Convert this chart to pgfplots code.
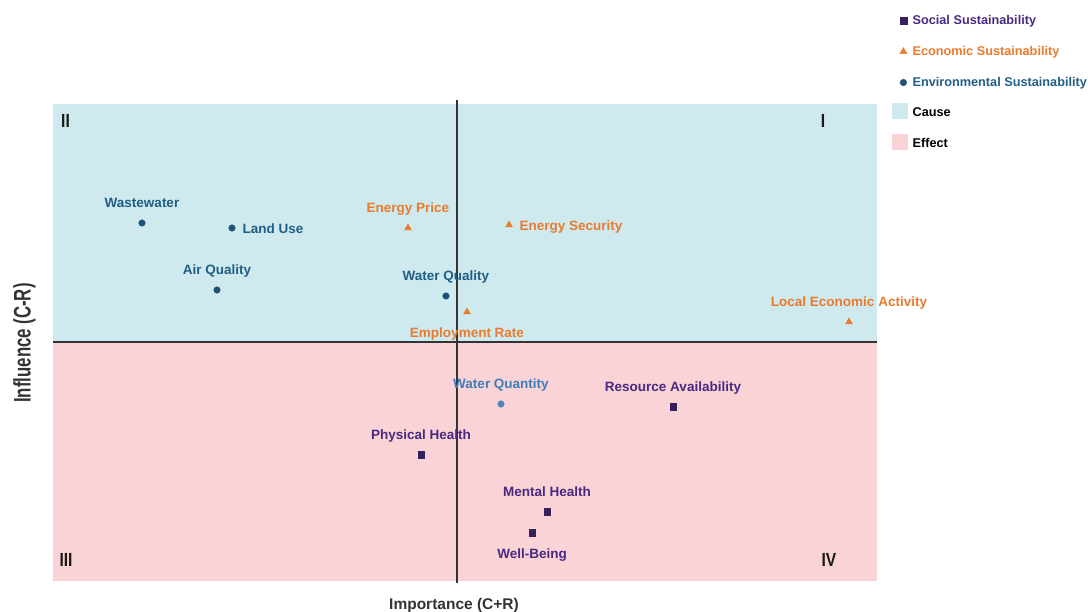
\documentclass[border=0pt]{standalone}
\usepackage{fontspec}
\setmainfont{Liberation Sans}
\usepackage{pgfplots}
\usepackage{pgfplotstable}
\pgfplotsset{compat=1.18}

\definecolor{cause}{HTML}{CFEAEE}
\definecolor{effect}{HTML}{FAD3D6}
\definecolor{socm}{HTML}{35205F}
\definecolor{soct}{HTML}{4A2A80}
\definecolor{ecom}{HTML}{EA7A2C}
\definecolor{envm}{HTML}{1D5177}
\definecolor{envt}{HTML}{215E86}
\definecolor{wqm}{HTML}{4A86BA}
\definecolor{wqt}{HTML}{3F7DB8}
\definecolor{axline}{HTML}{333333}

% x = importance (C+R), y = influence (C-R)
% rows ordered by where the label sits: above, below, right
\pgfplotstableread[col sep=comma]{
x,y,lbl
0.90,-1.70,Mental Health
-0.36,-1.13,Physical Health
2.16,-0.65,Resource Availability
0.75,-1.91,Well-Being
}\social

\pgfplotstableread[col sep=comma]{
x,y,lbl
-0.49,1.14,Energy Price
3.92,0.20,Local Economic Activity
0.10,0.30,Employment Rate
0.52,1.17,Energy Security
}\economic

\pgfplotstableread[col sep=comma]{
x,y,lbl
-3.15,1.19,Wastewater
-2.40,0.52,Air Quality
-0.11,0.46,Water Quality
-2.25,1.14,Land Use
}\environmental

\pgfplotstableread[col sep=comma]{
x,y,lbl
0.44,-0.62,Water Quantity
}\waterqty

\tikzset{
  above lbl/.style={anchor=base, yshift=15pt},
  below lbl/.style={anchor=base, yshift=-25.5pt},
  right lbl/.style={anchor=base west, xshift=10.5pt, yshift=-5.5pt},
  quad/.style={text=black!90, font=\bfseries\fontsize{19}{19}\selectfont},
}

\pgfplotsset{
  lbl/.style 2 args={
    forget plot, draw=none, mark=none,
    point meta=explicit symbolic,
    nodes near coords={\pgfplotspointmeta},
    every node near coord/.append style={
      inner sep=0pt, font=\bfseries\fontsize{13.5}{15}\selectfont,
      text=#1, #2},
  },
  mark legend/.style={
    legend image code/.code={
      \path (0pt,-8pt) (0pt,11pt);
      \draw[##1] plot coordinates {(11pt,0pt)};
    }
  },
  patch legend/.style={
    legend image code/.code={
      \path (0pt,-8pt) (0pt,11pt);
      \fill[#1] (0pt,-4.5pt) rectangle (15pt,10.5pt);
    }
  },
}

\begin{document}
\begin{tikzpicture}
\useasboundingbox (-53pt,-31pt) rectangle (1035pt,581pt);
\begin{axis}[
    scale only axis,
    width=824pt, height=477pt,
    xmin=-4.04, xmax=4.20,
    ymin=-2.39, ymax=2.38,
    hide axis,
    clip=false,
    legend style={
      at={(1.0182,1.1985)}, anchor=north west,
      draw=none, fill=none, inner sep=0pt,
      row sep=11.5pt, column sep=5pt,
      nodes={inner sep=0pt, text height=10pt, text depth=3pt},
      font=\bfseries\fontsize{12.7}{15}\selectfont,
    },
    legend cell align=left,
  ]

  % quadrant backgrounds
  \addplot[draw=none, fill=cause, forget plot]
    coordinates {(-4.04,0) (4.20,0) (4.20,2.38) (-4.04,2.38)};
  \addplot[draw=none, fill=effect, forget plot]
    coordinates {(-4.04,-2.39) (4.20,-2.39) (4.20,0) (-4.04,0)};

  % dividing lines
  \addplot[axline, line width=1.2pt, forget plot] coordinates {(-4.04,0) (4.20,0)};
  \addplot[axline, line width=1.2pt, forget plot] coordinates {(0,-2.41) (0,2.42)};

  \addplot[only marks, mark=square*, mark size=3.3pt, color=socm, mark legend]
    table[x=x, y=y] {\social};
  \addlegendentry[text=soct]{Social Sustainability}

  \addplot[only marks, mark=triangle*, mark size=4pt, color=ecom, mark legend]
    table[x=x, y=y] {\economic};
  \addlegendentry[text=ecom]{Economic Sustainability}

  \addplot[only marks, mark=*, mark size=3.3pt, color=envm, mark legend]
    table[x=x, y=y] {\environmental};
  \addlegendentry[text=envt]{Environmental Sustainability}

  \addplot[only marks, mark=*, mark size=3.3pt, color=wqm, forget plot]
    table[x=x, y=y] {\waterqty};

  \addlegendimage{patch legend=cause}
  \addlegendentry[text=black]{Cause}
  \addlegendimage{patch legend=effect}
  \addlegendentry[text=black]{Effect}

  % point labels
  \addplot[lbl={soct}{above lbl}, skip coords between index={3}{4}]
    table[x=x, y=y, meta=lbl] {\social};
  \addplot[lbl={soct}{below lbl}, skip coords between index={0}{3}]
    table[x=x, y=y, meta=lbl] {\social};
  \addplot[lbl={ecom}{above lbl}, skip coords between index={2}{4}]
    table[x=x, y=y, meta=lbl] {\economic};
  \addplot[lbl={ecom}{below lbl}, skip coords between index={0}{2},
    skip coords between index={3}{4}]
    table[x=x, y=y, meta=lbl] {\economic};
  \addplot[lbl={ecom}{right lbl}, skip coords between index={0}{3}]
    table[x=x, y=y, meta=lbl] {\economic};
  \addplot[lbl={envt}{above lbl}, skip coords between index={3}{4}]
    table[x=x, y=y, meta=lbl] {\environmental};
  \addplot[lbl={envt}{right lbl}, skip coords between index={0}{3}]
    table[x=x, y=y, meta=lbl] {\environmental};
  \addplot[lbl={wqt}{above lbl}]
    table[x=x, y=y, meta=lbl] {\waterqty};

  % quadrant numbers
  \node[quad] at (axis cs:-3.915,2.21) {\scalebox{0.82}[1]{II}};
  \node[quad] at (axis cs:3.66,2.21) {\scalebox{0.82}[1]{I}};
  \node[quad] at (axis cs:-3.91,-2.18) {\scalebox{0.82}[1]{III}};
  \node[quad] at (axis cs:3.72,-2.18) {\scalebox{0.82}[1]{IV}};

  % axis titles
  \node[anchor=base, text=axline, inner sep=0pt] at (axis cs:-0.03,-2.68)
    {\fontsize{15.5}{17}\bfseries\selectfont Importance (C+R)};
  \node[rotate=90, text=axline, inner sep=0pt] at (axis cs:-4.325,-0.01)
    {\scalebox{0.7}[1]{\fontsize{24}{26}\bfseries\selectfont Influence (C-R)}};
\end{axis}
\end{tikzpicture}
\end{document}
